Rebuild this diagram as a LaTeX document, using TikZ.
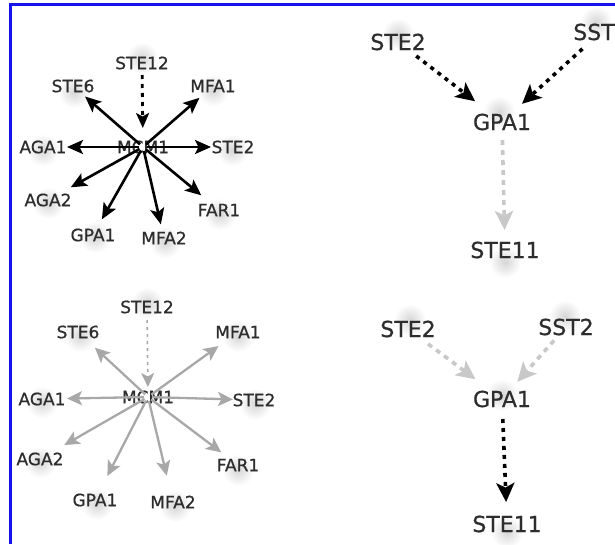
\documentclass[tikz,border=0pt]{standalone}
\usepackage{fontspec}
\setmainfont{DejaVu Sans}
\newfontfamily\genefont{DejaVu Sans}[FakeBold=0.7]
\usetikzlibrary{arrows.meta}

\definecolor{frameblue}{RGB}{20,20,235}
\definecolor{labelgray}{RGB}{45,45,45}
\definecolor{edgegray}{RGB}{168,168,168}
\definecolor{palegray}{RGB}{200,200,200}

\tikzset{
  small/.style={text=labelgray, inner sep=1pt, font=\genefont\fontsize{17}{17}\selectfont},
  large/.style={text=labelgray, inner sep=1pt, font=\genefont\fontsize{22}{22}\selectfont},
  halo/.style={inner color=black!16, outer color=white},
  solidblack/.style={draw=black, line width=2.6pt,
    -{Stealth[length=16pt, width=14pt, inset=3.5pt]}},
  solidgray/.style={draw=edgegray, line width=2.3pt,
    -{Stealth[length=15pt, width=14pt, inset=3.5pt]}},
  dotblack/.style={draw=black, line width=2.8pt, dash pattern=on 4pt off 5pt,
    -{Stealth[length=15pt, width=13pt, inset=3.5pt]}},
  dotgraythin/.style={draw=edgegray, line width=1.6pt, dash pattern=on 3pt off 4pt,
    -{Stealth[length=14pt, width=13pt, inset=3.5pt]}},
  bigdotblack/.style={draw=black, line width=3.6pt, dash pattern=on 4pt off 5pt,
    -{Stealth[length=19pt, width=18pt, inset=4.5pt]}},
  bigdotgray/.style={draw=palegray, line width=3.6pt, dash pattern=on 5pt off 5pt,
    -{Stealth[length=19pt, width=18pt, inset=4.5pt]}},
}

\begin{document}
\begin{tikzpicture}[x=1pt, y=-1pt]
\useasboundingbox (0,0) rectangle (615,544);
\fill[white] (0,0) rectangle (615,544);

% frame lines along the top and left edges
\draw[frameblue, line width=3pt] (8.5,4.5) -- (615,4.5);
\draw[frameblue, line width=3pt] (10,3) -- (10,544);

% soft halos behind the gene labels
\foreach \x/\y in {142/58, 74/92, 213/90, 43/150, 232/150, 48/203,
                   95/237, 165/242, 220/214,
                   147/303, 80/336, 238/336, 42/402, 255/404, 40/462,
                   97/504, 175/506, 238/470,
                   398/34, 596/22, 499/112, 505/262,
                   410/320, 565/316, 502/395, 507/532}
  \shade[halo] (\x,\y) circle (16);

% ---------- upper left: MCM1 targets ----------
\node[small] (a-mcm)   at (143,147) {MCM1};
\node[small] (a-ste12) at (142,63)  {STE12};
\node[small] (a-ste6)  at (73,86)   {STE6};
\node[small] (a-mfa1)  at (213,86)  {MFA1};
\node[small] (a-aga1)  at (43,147)  {AGA1};
\node[small] (a-ste2)  at (233,147) {STE2};
\node[small] (a-aga2)  at (48,200)  {AGA2};
\node[small] (a-gpa1)  at (93,235)  {GPA1};
\node[small] (a-mfa2)  at (164,238) {MFA2};
\node[small] (a-far1)  at (219,210) {FAR1};

\draw[dotblack, shorten <=12pt, shorten >=19pt] (a-ste12.center) -- (a-mcm.center);
\draw[solidblack, shorten <=4pt, shorten >=16pt] (a-mcm.center) -- (a-ste6.center);
\draw[solidblack, shorten <=4pt, shorten >=18pt] (a-mcm.center) -- (a-mfa1.center);
\draw[solidblack, shorten <=4pt, shorten >=24pt] (a-mcm.center) -- (a-aga1.center);
\draw[solidblack, shorten <=4pt, shorten >=22pt] (a-mcm.center) -- (a-ste2.center);
\draw[solidblack, shorten <=4pt, shorten >=26pt] (a-mcm.center) -- (a-aga2.center);
\draw[solidblack, shorten <=4pt, shorten >=18pt] (a-mcm.center) -- (a-gpa1.center);
\draw[solidblack, shorten <=4pt, shorten >=14pt] (a-mcm.center) -- (a-mfa2.center);
\draw[solidblack, shorten <=4pt, shorten >=23pt] (a-mcm.center) -- (a-far1.center);

% ---------- upper right: pheromone receptor branch ----------
\node[large] (b-ste2)  at (398,42)  {STE2};
\node[large] (b-sst2)  at (601,32)  {SST2};
\node[large] (b-gpa1)  at (502,122) {GPA1};
\node[large] (b-ste11) at (505,250) {STE11};

\draw[bigdotblack, shorten <=23pt, shorten >=34pt] (b-ste2.center) -- (b-gpa1.center);
\draw[bigdotblack, shorten <=25pt, shorten >=27pt] (b-sst2.center) -- (b-gpa1.center);
\draw[bigdotgray, shorten <=18pt, shorten >=20pt] (b-gpa1.center) -- (b-ste11.center);

% ---------- lower left: MCM1 targets, inactive ----------
\node[small] (c-mcm)   at (148,397) {MCM1};
\node[small] (c-ste12) at (147,307) {STE12};
\node[small] (c-ste6)  at (78,332)  {STE6};
\node[small] (c-mfa1)  at (238,332) {MFA1};
\node[small] (c-aga1)  at (42,399)  {AGA1};
\node[small] (c-ste2)  at (254,400) {STE2};
\node[small] (c-aga2)  at (40,459)  {AGA2};
\node[small] (c-gpa1)  at (95,500)  {GPA1};
\node[small] (c-mfa2)  at (173,502) {MFA2};
\node[small] (c-far1)  at (238,465) {FAR1};

\draw[dotgraythin, shorten <=13pt, shorten >=10pt] (c-ste12.center) -- (c-mcm.center);
\draw[solidgray, shorten <=4pt, shorten >=23pt] (c-mcm.center) -- (c-ste6.center);
\draw[solidgray, shorten <=4pt, shorten >=24pt] (c-mcm.center) -- (c-mfa1.center);
\draw[solidgray, shorten <=4pt, shorten >=25pt] (c-mcm.center) -- (c-aga1.center);
\draw[solidgray, shorten <=4pt, shorten >=21pt] (c-mcm.center) -- (c-ste2.center);
\draw[solidgray, shorten <=4pt, shorten >=28pt] (c-mcm.center) -- (c-aga2.center);
\draw[solidgray, shorten <=4pt, shorten >=27pt] (c-mcm.center) -- (c-gpa1.center);
\draw[solidgray, shorten <=4pt, shorten >=27pt] (c-mcm.center) -- (c-mfa2.center);
\draw[solidgray, shorten <=4pt, shorten >=21pt] (c-mcm.center) -- (c-far1.center);

% ---------- lower right: downstream signal ----------
\node[large] (d-ste2)  at (408,329) {STE2};
\node[large] (d-sst2)  at (566,327) {SST2};
\node[large] (d-gpa1)  at (502,399) {GPA1};
\node[large] (d-ste11) at (507,524) {STE11};

\draw[bigdotgray, shorten <=25pt, shorten >=33pt] (d-ste2.center) -- (d-gpa1.center);
\draw[bigdotgray, shorten <=18pt, shorten >=23pt] (d-sst2.center) -- (d-gpa1.center);
\draw[bigdotblack, shorten <=20pt, shorten >=22pt] (d-gpa1.center) -- (d-ste11.center);
\end{tikzpicture}
\end{document}
